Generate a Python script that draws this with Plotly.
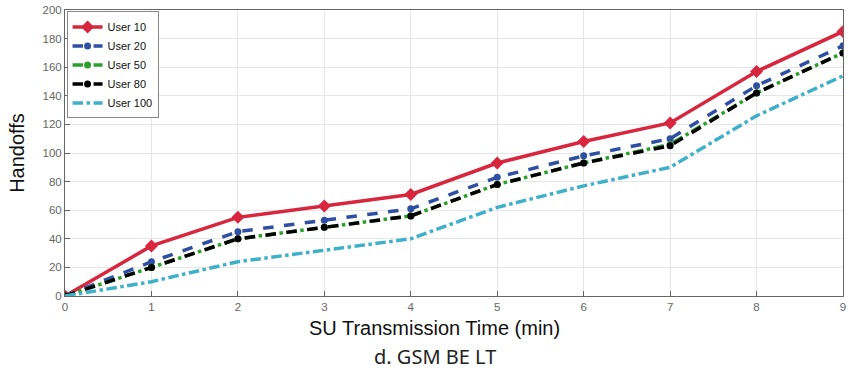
import plotly.graph_objects as go

x = [0, 1, 2, 3, 4, 5, 6, 7, 8, 9]
user10 = [0, 35, 55, 63, 71, 93, 108, 121, 157, 185]
user20 = [0, 24, 45, 53, 61, 83, 98, 110, 147, 175]
user50 = [0, 20, 40, 48, 56, 78, 93, 106, 142, 170]
user80 = [0, 20, 40, 48, 56, 78, 93, 105, 142, 170]
user100 = [0, 10, 24, 32, 40, 62, 77, 90, 126, 154]

fig = go.Figure()
fig.add_trace(go.Scatter(x=x, y=user10, name="User 10", mode="lines+markers",
                         line=dict(color="#d7263d", width=3.5),
                         marker=dict(symbol="diamond", size=10, color="#d7263d")))
fig.add_trace(go.Scatter(x=x, y=user20, name="User 20", mode="lines+markers",
                         line=dict(color="#2e4fa3", width=3.5, dash="dash"),
                         marker=dict(symbol="circle", size=7, color="#2e4fa3")))
fig.add_trace(go.Scatter(x=x, y=user50, name="User 50", mode="lines+markers",
                         line=dict(color="#2ca02c", width=3.5, dash="dashdot"),
                         marker=dict(symbol="circle", size=7, color="#2ca02c")))
fig.add_trace(go.Scatter(x=x, y=user80, name="User 80", mode="lines+markers",
                         line=dict(color="#000000", width=3.5, dash="dash"),
                         marker=dict(symbol="circle", size=7, color="#000000")))
fig.add_trace(go.Scatter(x=x, y=user100, name="User 100", mode="lines",
                         line=dict(color="#3fb0c9", width=3.5, dash="dashdot")))

axis_common = dict(showgrid=True, gridcolor="#e6e6e6", gridwidth=1,
                   showline=True, linecolor="#666666", linewidth=1, mirror=True,
                   ticks="inside", ticklen=5, tickcolor="#666666",
                   tickfont=dict(family="Liberation Sans, Arial", size=11.5, color="#666666"),
                   zeroline=False)

fig.update_xaxes(range=[0, 9], dtick=1, ticklabeloverflow="allow", **axis_common)
fig.update_yaxes(range=[0, 200], dtick=20, **axis_common,
                 title=dict(text="Handoffs",
                            font=dict(family="Liberation Sans, Arial", size=20, color="#111111"),
                            standoff=12))

fig.add_annotation(text="SU Transmission Time (min)", xref="paper", yref="paper",
                   x=0.475, y=-0.112, yanchor="middle", showarrow=False,
                   font=dict(family="Liberation Sans, Arial", size=20, color="#111111"))
fig.add_annotation(text="d. GSM BE LT", xref="paper", yref="paper",
                   x=0.475, y=-0.213, yanchor="middle", showarrow=False,
                   font=dict(family="Noto Sans, Open Sans", size=20, color="#222222"))

fig.update_layout(
    width=848, height=379,
    margin=dict(l=65, r=2, t=10, b=83),
    plot_bgcolor="white", paper_bgcolor="white",
    legend=dict(x=0.002, y=0.995, xanchor="left", yanchor="top",
                bgcolor="white", bordercolor="#888888", borderwidth=1,
                font=dict(family="Liberation Sans, Arial", size=11, color="#111111"),
                tracegroupgap=0, itemwidth=30),
    showlegend=True,
)

fig.write_html("out.html", config={"displayModeBar": False},
               post_script="document.body.style.margin='0px';")
